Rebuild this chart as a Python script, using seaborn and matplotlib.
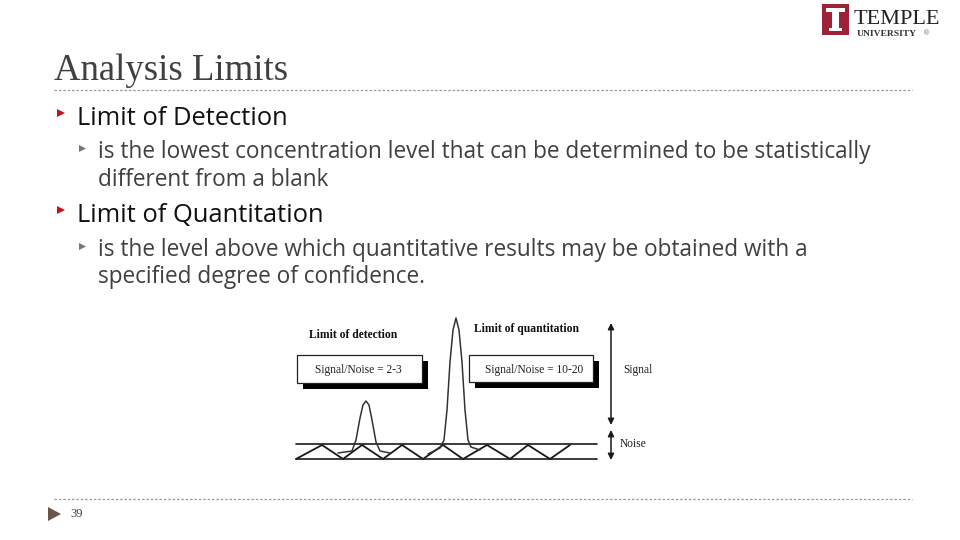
import matplotlib
matplotlib.use("Agg")
import matplotlib.pyplot as plt
from matplotlib.patches import Rectangle, Polygon
import seaborn as sns
import pandas as pd

# ---------------- data ----------------
title = "Analysis Limits"
bullets = ["Limit of Detection", "Limit of Quantitation"]
sub_bullets = [
    ["is the lowest concentration level that can be determined to be statistically",
     "different from a blank"],
    ["is the level above which quantitative results may be obtained with a",
     "specified degree of confidence."],
]
page_number = "39"

# diagram: baseline noise zig-zag (x, y in slide pixels)
noise_x = [296, 322, 343, 362, 383, 402, 423, 443, 463, 487, 510, 528, 550, 570]
noise_y = [459, 445, 459, 445, 459, 445, 459, 445, 459, 445, 459, 445, 459, 445]
band_top = 444
band_bottom = 459
band_x = [296, 597]

# detection peak (small)
lod_x = [338, 352, 356, 360, 363, 366, 369, 372, 376, 380, 390]
lod_y = [453, 451, 440, 418, 405, 401, 405, 420, 442, 451, 453]
# quantitation peak (large)
loq_x = [428, 440, 444, 447, 450, 453, 456, 459, 462, 465, 468, 471, 480]
loq_y = [454, 448, 440, 410, 362, 330, 318, 330, 362, 410, 440, 447, 450]

label_lod = "Limit of detection"
label_loq = "Limit of quantitation"
box_lod = "Signal/Noise = 2-3"
box_loq = "Signal/Noise = 10-20"
axis_signal = "Signal"
axis_noise = "Noise"

# ---------------- styling ----------------
sns.set_theme(style="white")
plt.rcParams['font.family'] = ['Open Sans', 'DejaVu Sans']

fig = plt.figure(figsize=(9.6, 5.4), dpi=100)
ax = fig.add_axes([0, 0, 1, 1])
ax.set_xlim(0, 960)
ax.set_ylim(540, 0)
ax.axis("off")
fig.patch.set_facecolor("white")

text_gray = "#404040"
red = "#c0141c"
serif = ["Liberation Serif", "DejaVu Serif"]

# title
ax.text(54, 80.5, title, fontsize=26.5, family=serif,
        color=text_gray, va="baseline", ha="left")
# dotted rules
for yy in (90, 499):
    ax.plot([54, 912], [yy, yy], color="#9a9a9a", lw=0.9, ls=(0, (2, 1.5)))

# bullets
lvl1_base = [125, 222]
lvl2_base = [[158, 186], [256, 283]]
for i, b in enumerate(bullets):
    yb = lvl1_base[i]
    ax.add_patch(Polygon([[57, yb - 16], [57, yb - 8], [65, yb - 12]], closed=True,
                         color=red, lw=0))
    ax.text(77, yb, b, fontsize=18.4, color="#111111", va="baseline", ha="left")
    for j, line in enumerate(sub_bullets[i]):
        ys = lvl2_base[i][j]
        if j == 0:
            ax.add_patch(Polygon([[79, ys - 13], [79, ys - 6], [86, ys - 9.5]], closed=True,
                                 color="#7f7270", lw=0))
        ax.text(98, ys, line, fontsize=16.3, color=text_gray, va="baseline", ha="left")

# footer
ax.add_patch(Polygon([[48, 507], [48, 521], [61, 514]], closed=True, color="#6b5548", lw=0))
ax.text(70, 514, page_number, fontsize=9, family=serif,
        color=text_gray, va="center", ha="left")

# logo
ax.add_patch(Rectangle((822, 4), 27, 31, color="#9d2235", lw=0))
ax.add_patch(Rectangle((826, 8), 19, 4, color="white", lw=0))
ax.add_patch(Rectangle((832, 12), 7, 17, color="white", lw=0))
ax.add_patch(Rectangle((829, 28), 13, 3, color="white", lw=0))
ax.text(854, 23.5, "TEMPLE", fontsize=16, family=serif,
        color="#222222", va="baseline", ha="left")
ax.text(857, 36.5, "UNIVERSITY", fontsize=6.8, fontweight="bold",
        family=serif, color="#333333", va="baseline", ha="left")
ax.text(923, 35, "®", fontsize=5, family=["DejaVu Sans"], color="#777777",
        va="baseline", ha="left")

# ---------------- diagram ----------------
ink = "#1a1a1a"
for yy in (band_top, band_bottom):
    ax.plot(band_x, [yy, yy], color=ink, lw=1.2)
sns.lineplot(x=noise_x, y=noise_y, ax=ax, color=ink, lw=1.3, estimator=None, sort=False)
sns.lineplot(x=lod_x, y=lod_y, ax=ax, color="#333333", lw=1.1, estimator=None, sort=False)
sns.lineplot(x=loq_x, y=loq_y, ax=ax, color="#333333", lw=1.1, estimator=None, sort=False)

# boxes with shadows
for (x0, y0, w, h, txt, tx) in [(297, 355, 125, 28, box_lod, 358),
                               (469, 355, 124, 27, box_loq, 534)]:
    ax.add_patch(Rectangle((x0 + 6, y0 + 6), w, h, color="black", lw=0, zorder=3))
    ax.add_patch(Rectangle((x0, y0), w, h, facecolor="white", edgecolor="#222222",
                           lw=0.9, zorder=4))
    ax.text(tx, y0 + h / 2 + 1, txt, fontsize=8.3, family=serif, color="#222222",
            ha="center", va="center", zorder=5)

ax.text(353, 335, label_lod, fontsize=8.4, fontweight="bold", family=serif,
        color="#111111", ha="center", va="center")
ax.text(527, 329, label_loq, fontsize=8.4, fontweight="bold", family=serif,
        color="#111111", ha="center", va="center")

arrow = dict(arrowstyle="<|-|>", color=ink, lw=1.1, mutation_scale=9,
             shrinkA=0, shrinkB=0)
ax.annotate("", xy=(611, 323), xytext=(611, 425), arrowprops=arrow)
ax.annotate("", xy=(611, 430), xytext=(611, 460), arrowprops=arrow)
ax.text(623, 370, axis_signal, fontsize=8.3, family=serif, color="#222222",
        ha="left", va="center")
ax.text(620, 444, axis_noise, fontsize=8.3, family=serif, color="#222222",
        ha="left", va="center")

fig.savefig("out.png", dpi=100, facecolor="white")
